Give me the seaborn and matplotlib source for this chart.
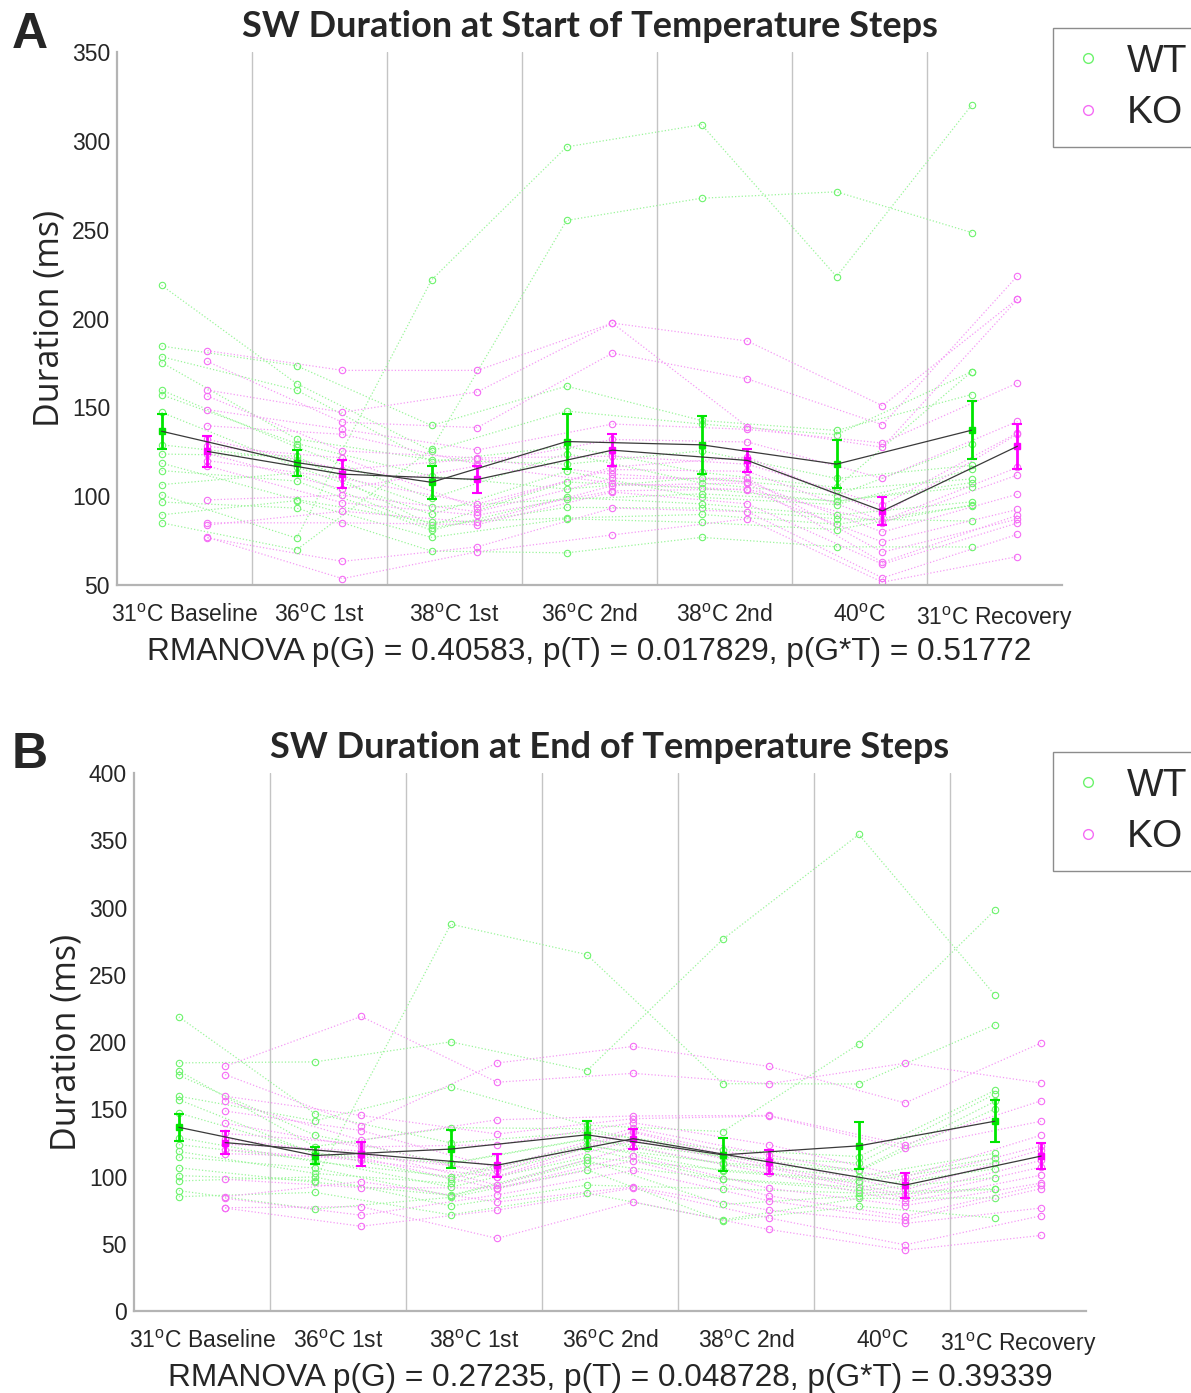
import numpy as np
import pandas as pd
import matplotlib
matplotlib.use("Agg")
import matplotlib.pyplot as plt
import seaborn as sns
from matplotlib.lines import Line2D

sns.set_style("white")
plt.rcParams['font.family'] = ['Liberation Sans', 'DejaVu Sans']
plt.rcParams['mathtext.fontset'] = 'custom'
plt.rcParams['mathtext.rm'] = 'Liberation Sans'
plt.rcParams['mathtext.it'] = 'Liberation Sans:italic'

CONDITIONS = [r'31$^{\mathrm{o}}$C Baseline', r'36$^{\mathrm{o}}$C 1st', r'38$^{\mathrm{o}}$C 1st',
              r'36$^{\mathrm{o}}$C 2nd', r'38$^{\mathrm{o}}$C 2nd', r'40$^{\mathrm{o}}$C',
              r'31$^{\mathrm{o}}$C Recovery']
GROUPS = ['WT', 'KO']

TITLES = ['SW Duration at Start of Temperature Steps', 'SW Duration at End of Temperature Steps']
STATS = ['RMANOVA p(G) = 0.40583, p(T) = 0.017829, p(G*T) = 0.51772',
         'RMANOVA p(G) = 0.27235, p(T) = 0.048728, p(G*T) = 0.39339']
PANEL_LETTERS = ['A', 'B']
YTICKS_START = [50, 100, 150, 200, 250, 300, 350]
YTICKS_END = [0, 50, 100, 150, 200, 250, 300, 350, 400]

# each inner list = one temperature step; position in list = animal
WT_START = [
    [100.7, 85.0, 218.7, 184.5, 178.5, 175.2, 159.7, 157.1, 147.2, 128.9, 123.7, 118.6, 114.4, 106.5, 96.7, 89.5],
    [76.4, 69.8, 163.4, 173.4, 159.7, 132.2, 127.6, 129.6, 116.6, 120.6, 122.6, 98.1, 108.5, 113.1, 93.3, 97.5],
    [221.7, 126.5, 125.5, 139.8, 119.5, 120.5, 98.7, 111.3, 89.7, 93.9, 83.6, 85.2, 80.8, 82.2, 69.1, 76.8],
    [296.6, 255.2, 147.9, 161.9, 128.0, 118.0, 124.0, 104.0, 114.0, 98.3, 108.0, 87.7, 99.3, 93.7, 68.1, 87.3],
    [309.1, 267.7, 140.6, 142.6, 113.4, 125.5, 107.4, 110.4, 99.3, 101.3, 104.4, 89.7, 95.7, 93.3, 76.8, 85.2],
    [223.6, 271.3, 134.6, 137.0, 105.0, 110.0, 100.3, 103.4, 95.3, 97.3, 97.0, 84.2, 89.3, 87.3, 71.5, 81.2],
    [320.0, 248.4, 170.1, 157.2, 170.0, 117.3, 129.2, 109.7, 115.1, 105.4, 107.6, 94.6, 96.8, 86.0, 71.4, 95.0],
]
KO_START = [
    [181.9, 175.8, 159.7, 156.3, 148.7, 139.6, 132.0, 128.0, 124.0, 120.0, 117.0, 97.9, 85.0, 83.8, 76.8, 76.5],
    [170.8, 141.6, 147.2, 125.5, 137.6, 134.8, 115.0, 121.5, 104.0, 110.0, 96.3, 100.5, 85.0, 91.5, 53.6, 63.3],
    [170.8, 138.6, 158.7, 121.5, 126.0, 118.0, 121.0, 93.3, 117.0, 95.7, 89.3, 91.3, 84.0, 85.2, 68.7, 71.5],
    [197.4, 180.5, 197.4, 122.5, 140.6, 131.9, 112.4, 116.4, 107.4, 115.0, 103.0, 110.0, 102.3, 106.0, 78.2, 93.3],
    [187.3, 166.0, 139.0, 118.0, 137.6, 130.5, 108.0, 122.0, 103.4, 114.0, 104.0, 110.0, 95.7, 107.4, 87.3, 91.3],
    [150.9, 140.2, 127.5, 95.0, 129.9, 110.0, 79.8, 90.0, 74.2, 86.2, 85.0, 68.5, 61.7, 62.7, 51.6, 54.0],
    [211.1, 224.0, 210.7, 135.6, 163.7, 142.1, 101.1, 134.9, 92.5, 116.2, 111.9, 87.1, 84.9, 89.3, 66.0, 78.5],
]
WT_END = [
    [100.7, 184.5, 159.7, 218.7, 178.5, 175.2, 157.1, 147.2, 128.9, 123.7, 118.6, 114.4, 106.5, 96.7, 89.5, 85.0],
    [97.0, 185.2, 141.4, 146.7, 122.3, 130.8, 116.9, 118.0, 111.0, 112.2, 102.3, 106.3, 95.7, 99.7, 75.7, 88.2],
    [287.6, 200.1, 166.6, 125.0, 136.3, 109.5, 110.0, 98.3, 100.0, 92.2, 95.0, 85.6, 86.0, 78.1, 84.5, 71.5],
    [265.0, 178.6, 138.2, 132.9, 135.5, 127.6, 128.0, 122.6, 123.6, 114.3, 120.9, 110.3, 112.2, 93.6, 105.0, 87.7],
    [169.0, 276.4, 133.4, 120.0, 114.3, 115.0, 109.0, 110.0, 104.0, 105.0, 98.0, 98.3, 79.2, 90.9, 67.0, 67.8],
    [168.8, 354.3, 198.5, 114.8, 105.0, 110.0, 100.0, 104.2, 95.7, 97.0, 89.6, 92.0, 85.6, 87.7, 77.9, 83.7],
    [212.8, 234.9, 298.0, 164.0, 155.8, 161.3, 117.2, 150.2, 110.3, 113.6, 99.2, 105.6, 90.4, 91.0, 69.2, 84.1],
]
KO_END = [
    [181.9, 175.8, 159.7, 156.3, 148.7, 139.6, 132.0, 128.0, 124.0, 120.0, 117.0, 97.9, 85.0, 83.8, 76.8, 76.5],
    [219.0, 137.7, 145.4, 127.0, 134.2, 122.0, 124.4, 116.0, 119.0, 112.0, 114.0, 91.7, 96.2, 71.2, 77.6, 63.0],
    [170.1, 184.4, 131.6, 142.2, 106.3, 123.6, 100.0, 104.0, 93.6, 99.7, 90.9, 91.5, 81.1, 86.4, 54.0, 75.0],
    [176.7, 196.7, 143.0, 145.0, 136.0, 140.0, 132.9, 133.6, 122.3, 127.0, 111.6, 115.6, 92.2, 104.5, 81.1, 91.4],
    [169.0, 181.8, 144.9, 145.4, 116.0, 123.6, 108.0, 112.0, 102.4, 106.3, 85.6, 91.2, 75.0, 81.9, 60.6, 69.1],
    [184.2, 154.7, 120.9, 123.6, 97.0, 99.7, 86.4, 90.0, 81.1, 84.0, 70.4, 78.4, 65.1, 67.8, 45.2, 49.2],
    [169.5, 199.3, 141.1, 156.3, 122.7, 130.7, 112.0, 119.9, 101.0, 107.0, 93.7, 95.1, 76.6, 91.0, 56.2, 70.8],
]

PT_COLORS = {'WT': '#6cf36c', 'KO': '#f56cf5'}
LINE_COLORS = {'WT': '#9af59a', 'KO': '#f59af5'}
MEAN_COLORS = {'WT': '#00e600', 'KO': '#ff00ff'}
OFFSETS = {'WT': -0.17, 'KO': 0.17}


def to_long(table, group):
    rows = []
    for ci, vals in enumerate(table):
        for ai, v in enumerate(vals):
            rows.append({'cond': ci + 1, 'animal': ai, 'value': v, 'group': group})
    d = pd.DataFrame(rows)
    d['xpos'] = d['cond'] + OFFSETS[group]
    return d


W, H = 1191, 1393
fig = plt.figure(figsize=(W / 100, H / 100), dpi=100)

axes_px = [(117, 52, 1062, 585), (134, 773, 1086, 1311)]
data_sets = [(WT_START, KO_START), (WT_END, KO_END)]
yticks_list = [YTICKS_START, YTICKS_END]
ylims = [(50, 350), (0, 400)]
legend_px = [(1053, 28), (1053, 752)]

for p in range(2):
    l, t, r, b = axes_px[p]
    ax = fig.add_axes([l / W, 1 - b / H, (r - l) / W, (b - t) / H])
    for g, table in zip(GROUPS, data_sets[p]):
        d = to_long(table, g)
        sns.lineplot(data=d, x='xpos', y='value', units='animal', estimator=None,
                     color=LINE_COLORS[g], linestyle=':', linewidth=0.9,
                     marker='o', markersize=4.6, markerfacecolor='none',
                     markeredgecolor=PT_COLORS[g], markeredgewidth=0.8,
                     ax=ax, legend=False, zorder=2)
    for g, table in zip(GROUPS, data_sets[p]):
        d = to_long(table, g)
        st = d.groupby('xpos')['value'].agg(['mean', 'sem']).reset_index()
        ax.errorbar(st['xpos'], st['mean'], yerr=st['sem'], fmt='s', color=MEAN_COLORS[g],
                    ms=5, elinewidth=2.0, capsize=3.5, capthick=1.5, zorder=5)
        ax.plot(st['xpos'], st['mean'], color='#3a3a3a', lw=0.9, zorder=6)

    for xv in np.arange(1.5, 7.0, 1.0):
        ax.axvline(xv, color='#c4c4c4', lw=1.0, zorder=1)

    ax.set_xlim(0.5, 7.5)
    ax.set_ylim(*ylims[p])
    ax.set_xticks(range(1, 8))
    ax.set_xticklabels(CONDITIONS)
    ax.set_yticks(yticks_list[p])
    ax.tick_params(axis='both', direction='in', length=6, width=1, color='#7a7a7a',
                   labelsize=16.5, labelcolor='#262626', pad=5)
    ax.tick_params(axis='x', pad=14)
    for s in ['top', 'right']:
        ax.spines[s].set_visible(False)
    for s in ['left', 'bottom']:
        ax.spines[s].set_color('#b4b4b4')
        ax.spines[s].set_linewidth(1.6)

    ax.set_xlabel(STATS[p], fontsize=22.8, color='#262626', labelpad=4)
    ax.set_ylabel('Duration (ms)', fontsize=24.5, color='#262626', family='Open Sans', labelpad=4)
    ax.set_title(TITLES[p], fontsize=26, fontweight='bold', family='Lato', pad=11)

    handles = [Line2D([], [], marker='o', ls='none', mfc='none', mec=PT_COLORS[g], mew=1.0, ms=7)
               for g in GROUPS]
    lx, ly = legend_px[p]
    fig.legend(handles, GROUPS, loc='upper left', bbox_to_anchor=(lx / W, 1 - ly / H),
               bbox_transform=fig.transFigure, fontsize=28, frameon=True, fancybox=False,
               edgecolor='#8c8c8c', framealpha=1, handletextpad=0.5, borderpad=0.4,
               labelspacing=0.4, handlelength=1.0, borderaxespad=0)

    fig.text(30 / W, 1 - (35 + p * 720) / H, PANEL_LETTERS[p], fontsize=36, fontweight='bold',
             ha='center', va='center')

fig.savefig('out.png', dpi=100)
